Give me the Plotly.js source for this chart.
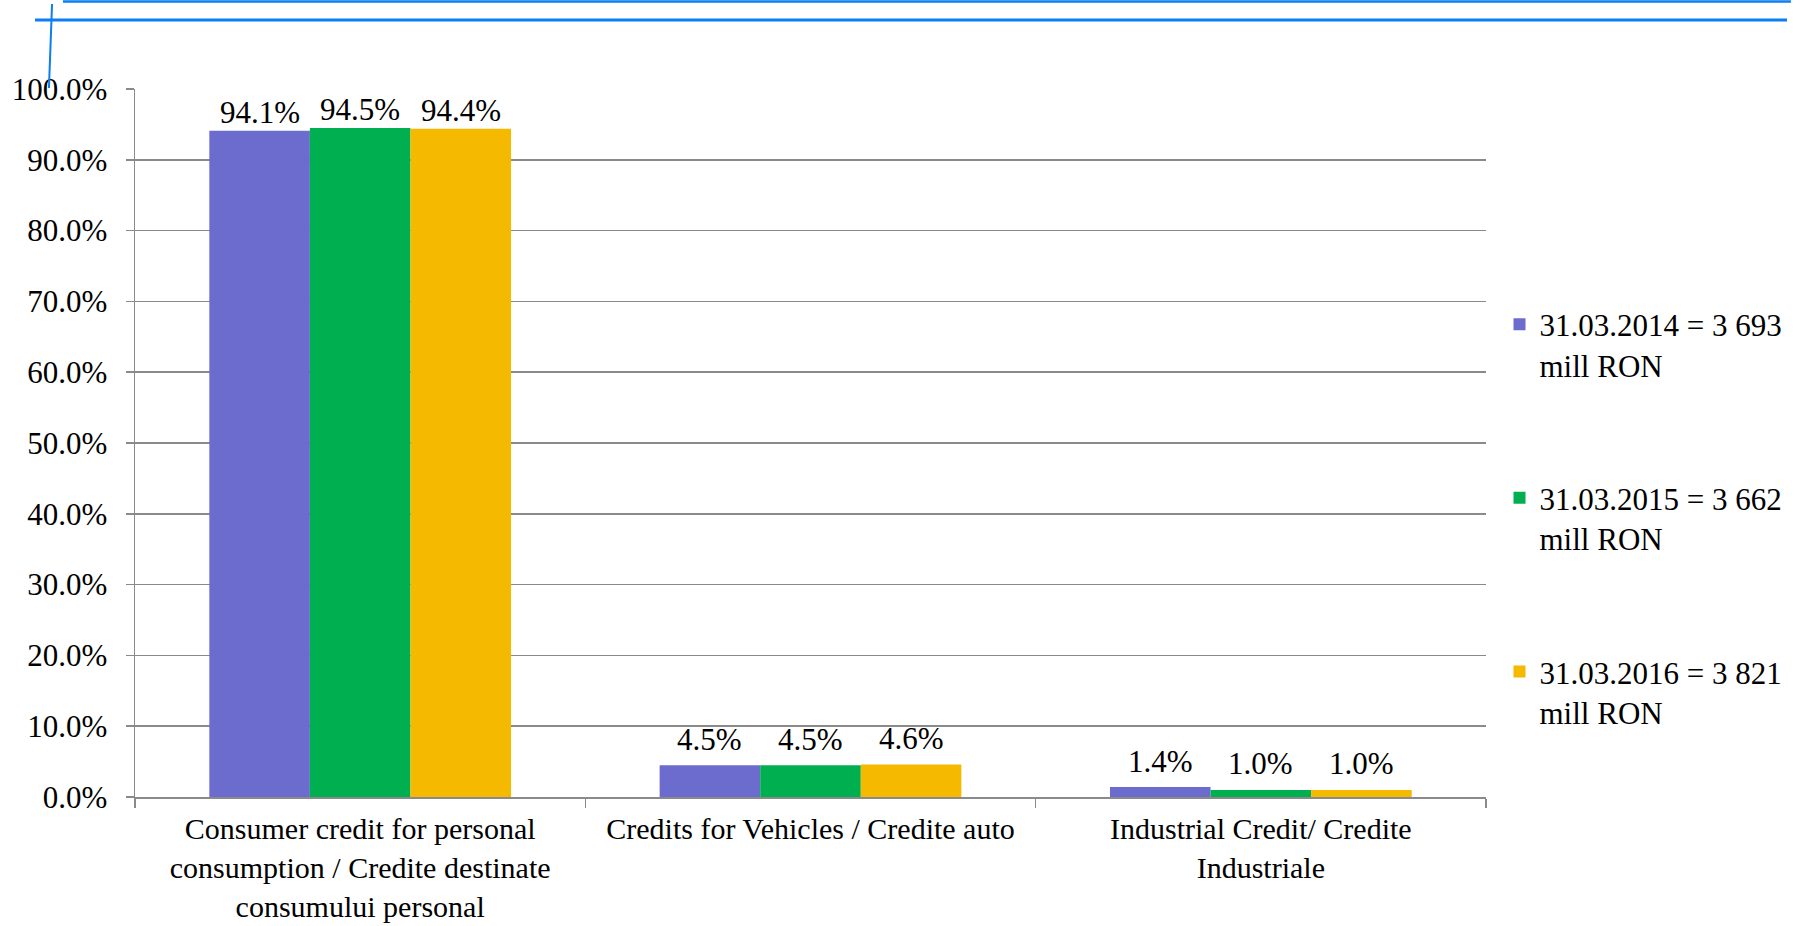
<!DOCTYPE html>
<html>
<head>
<meta charset="utf-8">
<script src="https://cdn.plot.ly/plotly-3.0.1.min.js"></script>
<style>html,body{margin:0;padding:0;background:#fff;}#chart{width:1806px;height:926px;}</style>
</head>
<body>
<div id="chart"></div>
<script>
const categories = [
  "Consumer credit for personal<br>consumption / Credite destinate<br>consumului personal",
  "Credits for Vehicles / Credite auto",
  "Industrial Credit/ Credite<br>Industriale"
];
const seriesNames = [
  "31.03.2014 = 3 693<br>mill RON",
  "31.03.2015 = 3 662<br>mill RON",
  "31.03.2016 = 3 821<br>mill RON"
];
const values2014 = [0.941, 0.045, 0.014];
const values2015 = [0.945, 0.045, 0.010];
const values2016 = [0.944, 0.046, 0.010];
const seriesColors = ["#6C6CCE", "#00AF50", "#F5BA00"];
const yTickVals = [0, 0.1, 0.2, 0.3, 0.4, 0.5, 0.6, 0.7, 0.8, 0.9, 1.0];

const FONT = "Liberation Serif, Times New Roman, serif";
const FS = 31;

const W = 1806, H = 926;
const margin = {l: 135, r: 320, t: 89, b: 129};
const bargap = 0.33;

const allValues = [values2014, values2015, values2016];
const traces = allValues.map((vals, i) => ({
  type: "bar",
  name: seriesNames[i],
  x: categories,
  y: vals,
  legendgroup: "g" + i,
  marker: {color: seriesColors[i], line: {width: 0}},
  hoverinfo: "skip"
}));

// data labels placed over each bar via annotations (offset by the group's bar slot width)
const plotW = W - margin.l - margin.r;
const barPx = plotW / categories.length * (1 - bargap) / allValues.length;
const annotations = [];
allValues.forEach((vals, i) => {
  vals.forEach((v, j) => {
    annotations.push({
      x: categories[j], y: v, xref: "x", yref: "y",
      text: (v * 100).toFixed(1) + "%",
      showarrow: false,
      xshift: (i - (allValues.length - 1) / 2) * barPx,
      yshift: j === 0 ? 18 : 26,
      yanchor: "middle",
      font: {family: FONT, size: FS, color: "#000"}
    });
  });
});

const blue = "#0a7ef2";
const layout = {
  width: W,
  height: H,
  margin: margin,
  paper_bgcolor: "#fff",
  plot_bgcolor: "#fff",
  font: {family: FONT, size: FS, color: "#000"},
  barmode: "group",
  bargap: bargap,
  bargroupgap: 0,
  showlegend: true,
  legend: {
    x: 1.01, xanchor: "left",
    y: 0.394, yanchor: "middle",
    traceorder: "grouped",
    tracegroupgap: 90,
    valign: "top",
    font: {family: FONT, size: FS, color: "#000"},
    bgcolor: "rgba(0,0,0,0)"
  },
  xaxis: {
    type: "category",
    showgrid: false,
    showline: true,
    linecolor: "#8a8a8a",
    linewidth: 1.5,
    ticks: "outside",
    tickson: "boundaries",
    ticklen: 9,
    tickcolor: "#8a8a8a",
    tickwidth: 1.5,
    ticklabelstandoff: 4,
    tickfont: {family: FONT, size: 30, color: "#000"},
    automargin: false,
    fixedrange: true
  },
  yaxis: {
    range: [0, 1],
    tickvals: yTickVals,
    tickformat: ".1%",
    showgrid: true,
    gridcolor: "#8a8a8a",
    gridwidth: 1.5,
    showline: true,
    linecolor: "#8a8a8a",
    linewidth: 1.5,
    ticks: "outside",
    ticklen: 8,
    tickcolor: "#8a8a8a",
    tickwidth: 1.5,
    zeroline: false,
    ticklabelstandoff: 12,
    tickfont: {family: FONT, size: FS, color: "#000"},
    automargin: false,
    fixedrange: true
  },
  annotations: annotations,
  shapes: [
    {type: "line", xref: "paper", yref: "paper", x0: -0.0533, x1: 1.2257, y0: 1.1236, y1: 1.1236, line: {color: blue, width: 2.5}},
    {type: "line", xref: "paper", yref: "paper", x0: -0.074, x1: 1.2228, y0: 1.0975, y1: 1.0975, line: {color: blue, width: 3}},
    {type: "line", xref: "paper", yref: "paper", x0: -0.0614, x1: -0.0637, y0: 1.12, y1: 1.0014, line: {color: blue, width: 2}}
  ]
};

Plotly.newPlot("chart", traces, layout, {displayModeBar: false, staticPlot: true});
</script>
</body>
</html>
